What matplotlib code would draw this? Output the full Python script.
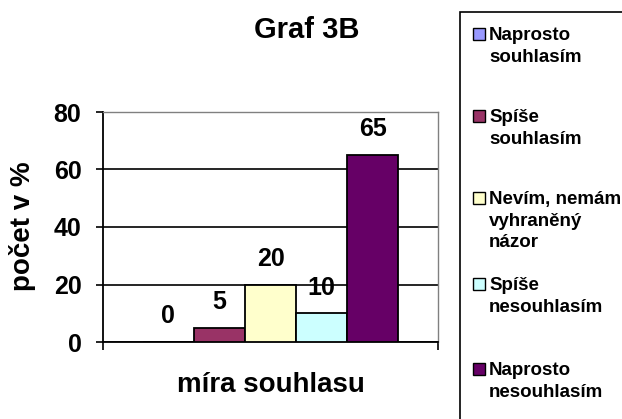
import matplotlib
matplotlib.use("Agg")
import matplotlib.pyplot as plt
from matplotlib.patches import Rectangle

plt.rcParams['font.family'] = ['Liberation Sans', 'DejaVu Sans']
plt.rcParams['font.weight'] = 'bold'

# ---- data ----
categories = ["Naprosto\nsouhlasím", "Spíše\nsouhlasím", "Nevím, nemám\nvyhraněný\nnázor",
              "Spíše\nnesouhlasím", "Naprosto\nnesouhlasím"]
values = [0, 5, 20, 10, 65]
colors = ["#9999FF", "#993366", "#FFFFCC", "#CCFFFF", "#660066"]
yticks = [0, 20, 40, 60, 80]
title = "Graf 3B"
ylabel = "počet v %"
xlabel = "míra souhlasu"

W, H = 622, 419
fig = plt.figure(figsize=(W / 100, H / 100), dpi=100)

def fx(px):
    return px / W

def fy(py):
    return 1 - py / H

ax = fig.add_axes([fx(103), fy(342), fx(438) - fx(103), fy(112) - fy(342)])

x = list(range(len(values)))
ax.bar(x, values, width=1.0, color=colors, edgecolor="black", linewidth=1.3, zorder=3)
for xi, v in zip(x, values):
    ax.annotate(str(v), (xi, v), xytext=(0, 18.5), textcoords="offset points",
                ha="center", va="center", fontsize=18, fontweight="bold", zorder=4)

ax.set_xlim(-1.28, len(values) - 1 + 1.28)
ax.set_ylim(0, 80)
ax.set_yticks(yticks)
ax.set_yticklabels([str(t) for t in yticks], fontsize=18, fontweight="bold")
ax.tick_params(axis="y", direction="out", length=5, width=1.2, pad=10.5)
ax.set_xticks(ax.get_xlim())
ax.set_xticklabels([])
ax.tick_params(axis="x", direction="out", length=6, width=1.2)
ax.grid(axis="y", color="black", linewidth=1.2, zorder=1)
ax.set_axisbelow(True)
for s in ["left", "bottom"]:
    ax.spines[s].set_color("black")
    ax.spines[s].set_linewidth(1.3)
for s in ["top", "right"]:
    ax.spines[s].set_color("#808080")
    ax.spines[s].set_linewidth(1.0)

fig.text(fx(307), fy(30), title, ha="center", va="center", fontsize=21, fontweight="bold")
fig.text(fx(22), fy(226), ylabel, ha="center", va="center", rotation=90,
         fontsize=20, fontweight="bold")
fig.text(fx(271), fy(385), xlabel, ha="center", va="center", fontsize=20, fontweight="bold")

# legend box
fig.patches.append(Rectangle((fx(460), fy(430)), fx(700) - fx(460), fy(12) - fy(430),
                             transform=fig.transFigure, facecolor="white",
                             edgecolor="black", linewidth=1.2, zorder=0))
legend_first_line = [34, 116, 198, 284, 369]
for lab, col, yc in zip(categories, colors, legend_first_line):
    fig.patches.append(Rectangle((fx(473), fy(yc + 6)), fx(485) - fx(473), fy(yc - 6) - fy(yc + 6),
                                 transform=fig.transFigure, facecolor=col,
                                 edgecolor="black", linewidth=1.0, zorder=2))
    fig.text(fx(489), fy(yc - 7), lab, ha="left", va="top", fontsize=13.5,
             fontweight="bold", linespacing=1.36)

fig.savefig("out.png", dpi=100)
